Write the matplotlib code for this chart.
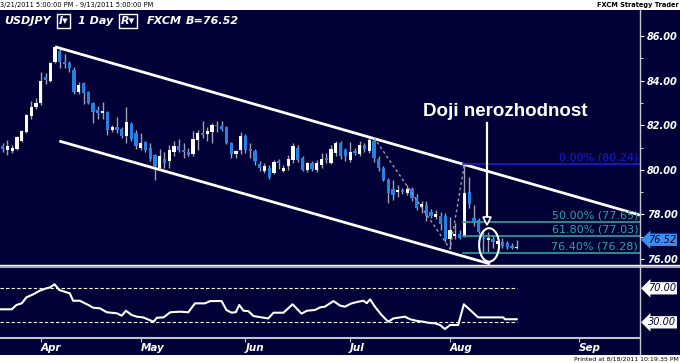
import numpy as np
import matplotlib
matplotlib.use("Agg")
import matplotlib.pyplot as plt
from matplotlib.patches import Rectangle, Ellipse
from matplotlib.lines import Line2D

# daily USDJPY candles, index 0 = 3/21/2011
opens = [81.05, 81.05, 80.9, 80.85, 80.95, 81.3, 81.7, 82.4, 82.8, 83.0,
         84.15, 84.0, 84.85, 85.35, 84.85, 84.8, 84.5, 83.5, 83.9, 83.5,
         83.0, 82.7, 82.55, 82.6, 81.8, 81.9, 81.85, 81.5, 82.05, 81.65,
         81.0, 81.25, 81.0, 80.65, 80.1, 80.5, 80.4, 80.8, 81.05, 80.9,
         80.8, 80.7, 81.35, 81.65, 81.6, 81.7, 82.0, 81.95, 81.9, 81.2,
         80.7, 80.9, 81.5, 80.95, 80.85, 80.25, 79.95, 80.1, 79.85, 80.4,
         79.95, 80.15, 80.45, 81.0, 80.55, 80.0, 80.3, 80.0, 80.2, 80.55,
         80.3, 80.75, 81.2, 80.9, 80.45, 80.85, 80.7, 81.1, 80.85, 81.3,
         80.5, 80.1, 79.55, 79.15, 79.0, 79.1, 78.95, 79.15, 78.75, 78.35,
         78.4, 78.1, 77.9, 77.95, 77.95, 76.9, 77.05, 77.1, 77.05, 79.0,
         77.85, 77.75, 76.95, 76.85, 76.9, 76.65, 76.75, 76.7, 76.6, 76.5]
highs = [81.2, 81.2, 81.35, 81.1, 81.5, 81.8, 82.5, 83.1, 83.2, 84.4,
         84.35, 84.85, 85.55, 85.45, 85.2, 84.9, 84.6, 83.95, 83.95, 83.55,
         83.05, 82.85, 83.05, 82.65, 82.0, 82.35, 81.9, 82.8, 82.15, 81.8,
         81.65, 81.3, 81.2, 80.7, 80.95, 80.8, 81.1, 81.3, 81.4, 81.2,
         81.0, 81.75, 81.8, 82.2, 81.9, 82.1, 82.2, 82.2, 81.95, 81.25,
         80.9, 81.7, 81.6, 81.2, 80.95, 80.4, 80.3, 80.2, 80.45, 80.5,
         80.2, 80.65, 81.2, 81.1, 80.6, 80.35, 80.4, 80.45, 80.75, 80.75,
         81.1, 81.3, 81.3, 81.0, 81.25, 81.0, 81.3, 81.2, 81.5, 81.45,
         80.6, 80.15, 79.65, 79.55, 79.3, 79.2, 79.3, 79.25, 78.9, 78.6,
         78.6, 78.25, 78.2, 78.1, 78.05, 77.9, 77.6, 77.3, 80.24, 79.7,
         78.4, 77.85, 77.2, 77.2, 77.05, 76.9, 76.95, 76.8, 76.7, 76.85]
lows = [80.8, 80.8, 80.65, 80.75, 80.9, 81.25, 81.65, 82.3, 82.75, 82.9,
        83.85, 83.95, 84.8, 84.55, 84.55, 84.4, 83.4, 83.4, 82.95, 82.95,
        82.1, 82.3, 82.3, 81.55, 81.7, 81.65, 81.45, 81.2, 81.3, 80.95,
        80.9, 80.8, 80.4, 79.55, 80.0, 80.1, 80.1, 80.6, 80.8, 80.55,
        80.6, 80.6, 80.9, 81.45, 81.3, 81.2, 81.7, 81.75, 81.15, 80.55,
        80.55, 80.7, 80.75, 80.55, 80.2, 79.95, 79.85, 79.6, 79.8, 80.05,
        79.9, 80.0, 80.3, 80.35, 79.95, 79.9, 79.95, 79.9, 80.1, 80.3,
        80.25, 80.6, 80.5, 80.4, 80.35, 80.65, 80.6, 80.8, 80.75, 80.35,
        79.95, 79.5, 78.5, 78.65, 78.8, 78.9, 78.85, 78.6, 78.2, 78.05,
        77.7, 77.85, 77.8, 77.3, 76.75, 76.45, 76.9, 76.9, 77.0, 78.3,
        77.5, 77.1, 76.25, 76.3, 76.5, 76.55, 76.5, 76.45, 76.45, 76.45]
closes = [80.95, 80.95, 81.05, 81.0, 81.45, 81.75, 82.45, 82.8, 83.0, 84.0,
          84.05, 84.8, 85.5, 84.85, 84.75, 84.55, 83.5, 83.8, 83.45, 83.0,
          82.6, 82.55, 82.65, 81.8, 81.9, 81.8, 81.5, 82.15, 81.4, 81.05,
          81.2, 80.9, 80.5, 80.15, 80.6, 80.3, 80.9, 81.05, 80.9, 80.8,
          80.65, 81.4, 81.65, 81.55, 81.75, 82.0, 81.95, 81.85, 81.2, 80.7,
          80.85, 81.5, 80.9, 80.85, 80.4, 80.1, 80.15, 79.7, 80.35, 80.3,
          80.1, 80.5, 81.05, 80.45, 80.0, 80.3, 80.05, 80.3, 80.5, 80.45,
          80.95, 81.2, 80.6, 80.6, 80.8, 80.75, 81.1, 80.95, 81.35, 80.55,
          80.1, 79.55, 78.95, 78.85, 79.1, 79.0, 79.15, 78.75, 78.3, 78.45,
          77.95, 77.95, 78.0, 77.55, 76.9, 77.3, 77.1, 76.95, 78.95, 78.45,
          77.7, 77.2, 76.9, 76.95, 76.75, 76.8, 76.6, 76.55, 76.5, 76.52]

# oscillator in the lower pane (candle index, value)
osc_x = [0.4, 2.9, 3.9, 5.0, 6.0, 7.4, 8.8, 10.2, 11.0, 11.9, 12.9, 14.0,
         15.1, 15.8, 17.2, 19.0, 20.0, 21.4, 22.9, 25.0, 26.0, 26.9, 28.1,
         29.2, 30.5, 32.7, 33.4, 34.8, 36.2, 38.3, 40.0, 41.4, 43.5, 44.6,
         47.0, 48.0, 49.1, 50.0, 50.7, 51.6, 52.6, 53.7, 55.8, 56.8, 57.9,
         60.0, 61.9, 63.8, 64.9, 66.6, 67.7, 68.7, 70.5, 71.9, 72.9, 74.3,
         75.7, 76.8, 77.5, 78.2, 79.2, 80.6, 82.0, 83.1, 85.5, 86.6, 88.0,
         89.4, 90.4, 91.8, 92.9, 93.9, 95.0, 96.7, 97.9, 99.2, 100.9, 106.2,
         106.5, 109.0]
osc_v = [45.3, 45.3, 50.4, 52.3, 59.4, 62.9, 67.2, 70.0, 71.2, 74.7, 68.0, 66.0,
         64.1, 55.4, 55.4, 50.4, 47.2, 46.5, 41.8, 40.6, 37.8, 43.6, 38.6,
         36.6, 35.8, 30.7, 35.4, 35.8, 41.8, 42.5, 41.8, 52.3, 52.3, 55.0,
         55.0, 44.5, 41.3, 42.0, 50.4, 43.6, 43.2, 37.4, 35.4, 34.6, 41.3,
         41.3, 51.2, 40.2, 43.6, 44.5, 47.6, 48.4, 55.0, 49.6, 48.4, 52.3,
         54.2, 55.4, 52.5, 57.0, 48.4, 38.6, 30.7, 34.6, 36.6, 33.6, 31.7,
         30.7, 29.5, 28.8, 26.8, 22.1, 26.8, 26.8, 51.2, 44.5, 35.8, 35.8,
         33.6, 33.6]

months = ["Apr", "May", "Jun", "Jul", "Aug", "Sep"]
month_idx = [9, 30, 52, 74, 95, 122]

price_ticks = [76, 78, 80, 82, 84, 86]
fib_levels = [80.24, 77.65, 77.03, 76.28]
fib_names = ["0.00%", "50.00%", "61.80%", "76.40%"]
last_price = 76.52

NAVY = "#010137"
BLUE = "#2481e6"
WICK = "#a0a0b0"
TEAL = "#2ba59f"
FIBBLUE = "#1a1ad6"

W, H = 680, 363


def fx(px):
    return px / W


def fy(py):
    return 1 - py / H


fig = plt.figure(figsize=(6.8, 3.63), dpi=100)
fig.patch.set_facecolor("white")
fig.add_artist(Rectangle((0, fy(355)), 1, fy(10) - fy(355), transform=fig.transFigure,
                         fc=NAVY, ec="none", zorder=0))

# main price pane
ax = fig.add_axes([0, fy(265), fx(640), fy(10) - fy(265)])
ax.set_facecolor(NAVY)
ax.set_xlim(0.44, 134.9)
ax.set_ylim(75.73, 87.17)
for s in ax.spines.values():
    s.set_visible(False)

o = np.array(opens)
c = np.array(closes)
idx = np.arange(len(o))
ax.vlines(idx, lows, highs, color=WICK, lw=1, zorder=2)
colors = np.where(c >= o, "white", BLUE)
ax.bar(idx, np.maximum(np.abs(c - o), 0.05), bottom=np.minimum(o, c), width=0.68,
       color=colors, edgecolor="none", zorder=3)

# trend channel
ax.plot([12.0, 134.9], [85.52, 77.97], color="white", lw=2, zorder=4, solid_capstyle="butt")
ax.plot([12.9, 103.4], [81.29, 75.78], color="white", lw=2, zorder=4, solid_capstyle="butt")

# swing used for the fibonacci
ax.plot([79, 95, 98], [highs[79], lows[95], highs[98]], color="#9a9aae", lw=1,
        ls=(0, (2, 2)), zorder=4)

# fibonacci levels
for lvl, name in zip(fib_levels, fib_names):
    col = FIBBLUE if name == "0.00%" else TEAL
    ax.plot([97.7, 134.9], [lvl, lvl], color=col, lw=1.2, zorder=4)
    ax.annotate(f"{name} ({lvl:.2f})", xy=(134.5, lvl), xytext=(0, 1.2),
                textcoords="offset points", ha="right", va="bottom",
                color=col, fontsize=8, zorder=5)

# doji annotation
ax.text(106.6, 82.6, "Doji nerozhodnost", color="white", fontsize=13.5,
        fontweight="bold", family="Liberation Sans", ha="center", va="center", zorder=6)
ax.plot([102.7, 102.7], [82.1, 77.85], color="white", lw=1.6, zorder=6)
ax.plot([102.7], [77.72], marker="v", ms=6, mfc=NAVY, mec="white", mew=1.2, zorder=7)
ax.add_patch(Ellipse((103.2, 76.63), 4.2, 1.5, fill=False, ec="white", lw=1.5, zorder=6))

# right price scale
ax.yaxis.tick_right()
ax.set_yticks(price_ticks)
ax.set_yticklabels([f"{v:.2f}" for v in price_ticks])
ax.set_yticks(np.arange(77, 87, 2), minor=True)
ax.tick_params(axis="y", which="both", direction="out", color="white", labelcolor="white",
               labelsize=7, pad=2)
ax.tick_params(axis="y", which="major", length=3)
ax.tick_params(axis="y", which="minor", length=2)
for t in ax.get_yticklabels():
    t.set_fontstyle("italic")
    t.set_fontweight("bold")
ax.set_xticks([])

ax.annotate(f"{last_price:.2f}", xy=(1.0, last_price), xycoords=("axes fraction", "data"),
            xytext=(5.5, 5.5), textcoords="offset points", ha="left", va="center",
            fontsize=7, fontstyle="italic", color=NAVY, annotation_clip=False,
            bbox=dict(boxstyle="larrow,pad=0.12", fc="#3b8ff0", ec="none"))

# oscillator pane
ax2 = fig.add_axes([0, fy(337.7), fx(640), fy(268.5) - fy(337.7)])
ax2.set_facecolor(NAVY)
ax2.set_xlim(0.44, 134.9)
ax2.set_ylim(11.9, 93.3)
for s in ax2.spines.values():
    s.set_visible(False)
ax2.spines["bottom"].set_visible(True)
ax2.spines["bottom"].set_color("#c4c4cc")
ax2.spines["bottom"].set_linewidth(1.5)
ax2.hlines([70, 30], 0.44, len(closes) - 1, colors="white", lw=0.8, linestyles=(0, (3, 2)))
ax2.plot(osc_x, osc_v, color="white", lw=1.5)
ax2.set_yticks([])
ax2.set_xticks(month_idx)
ax2.set_xticklabels(months, ha="left")
ax2.tick_params(axis="x", direction="out", length=3, color="#c4c4cc", labelcolor="white",
                labelsize=7.5, pad=1)
for t in ax2.get_xticklabels():
    t.set_fontstyle("italic")
    t.set_fontweight("bold")
for lvl in [70, 30]:
    ax2.annotate(f"{lvl:.2f}", xy=(1.0, lvl), xycoords=("axes fraction", "data"),
                 xytext=(5.5, 0), textcoords="offset points", ha="left", va="center",
                 fontsize=7, fontstyle="italic", color=NAVY, annotation_clip=False,
                 bbox=dict(boxstyle="larrow,pad=0.12", fc="white", ec="none"))

# separators
fig.add_artist(Line2D([0, 1], [fy(264.5), fy(264.5)], color="white", lw=1))
fig.add_artist(Line2D([0, 1], [fy(267), fy(267)], color="#a8a8b4", lw=1.5))
fig.add_artist(Line2D([fx(639.5), fx(639.5)], [fy(10), fy(355)], color="#c8c8d0", lw=1))

# header
hy = fy(21)
hkw = dict(color="white", fontsize=8, fontweight="bold", fontstyle="italic", va="center")
bkw = dict(boxstyle="square,pad=0.15", fc="none", ec="white", lw=1)
fig.text(fx(4), hy, "USDJPY", **hkw)
fig.text(fx(59), hy, "I\u25be", bbox=bkw, **hkw)
fig.text(fx(78), hy, "1 Day", **hkw)
fig.text(fx(121), hy, "R\u25be", bbox=bkw, **hkw)
fig.text(fx(147), hy, "FXCM", **hkw)
fig.text(fx(186), hy, f"B={last_price:.2f}", **hkw)

fig.text(fx(0), fy(4.5), "3/21/2011 5:00:00 PM - 9/13/2011 5:00:00 PM", fontsize=4.8,
         va="center", ha="left", color="black")
fig.text(fx(679), fy(4.5), "FXCM Strategy Trader", fontsize=4.8, fontweight="bold",
         va="center", ha="right", color="black")
fig.text(fx(679), fy(359), "Printed at 8/18/2011 10:19:35 PM", fontsize=4.5,
         va="center", ha="right", color="black")

fig.savefig("out.png", dpi=100, facecolor=fig.get_facecolor())
